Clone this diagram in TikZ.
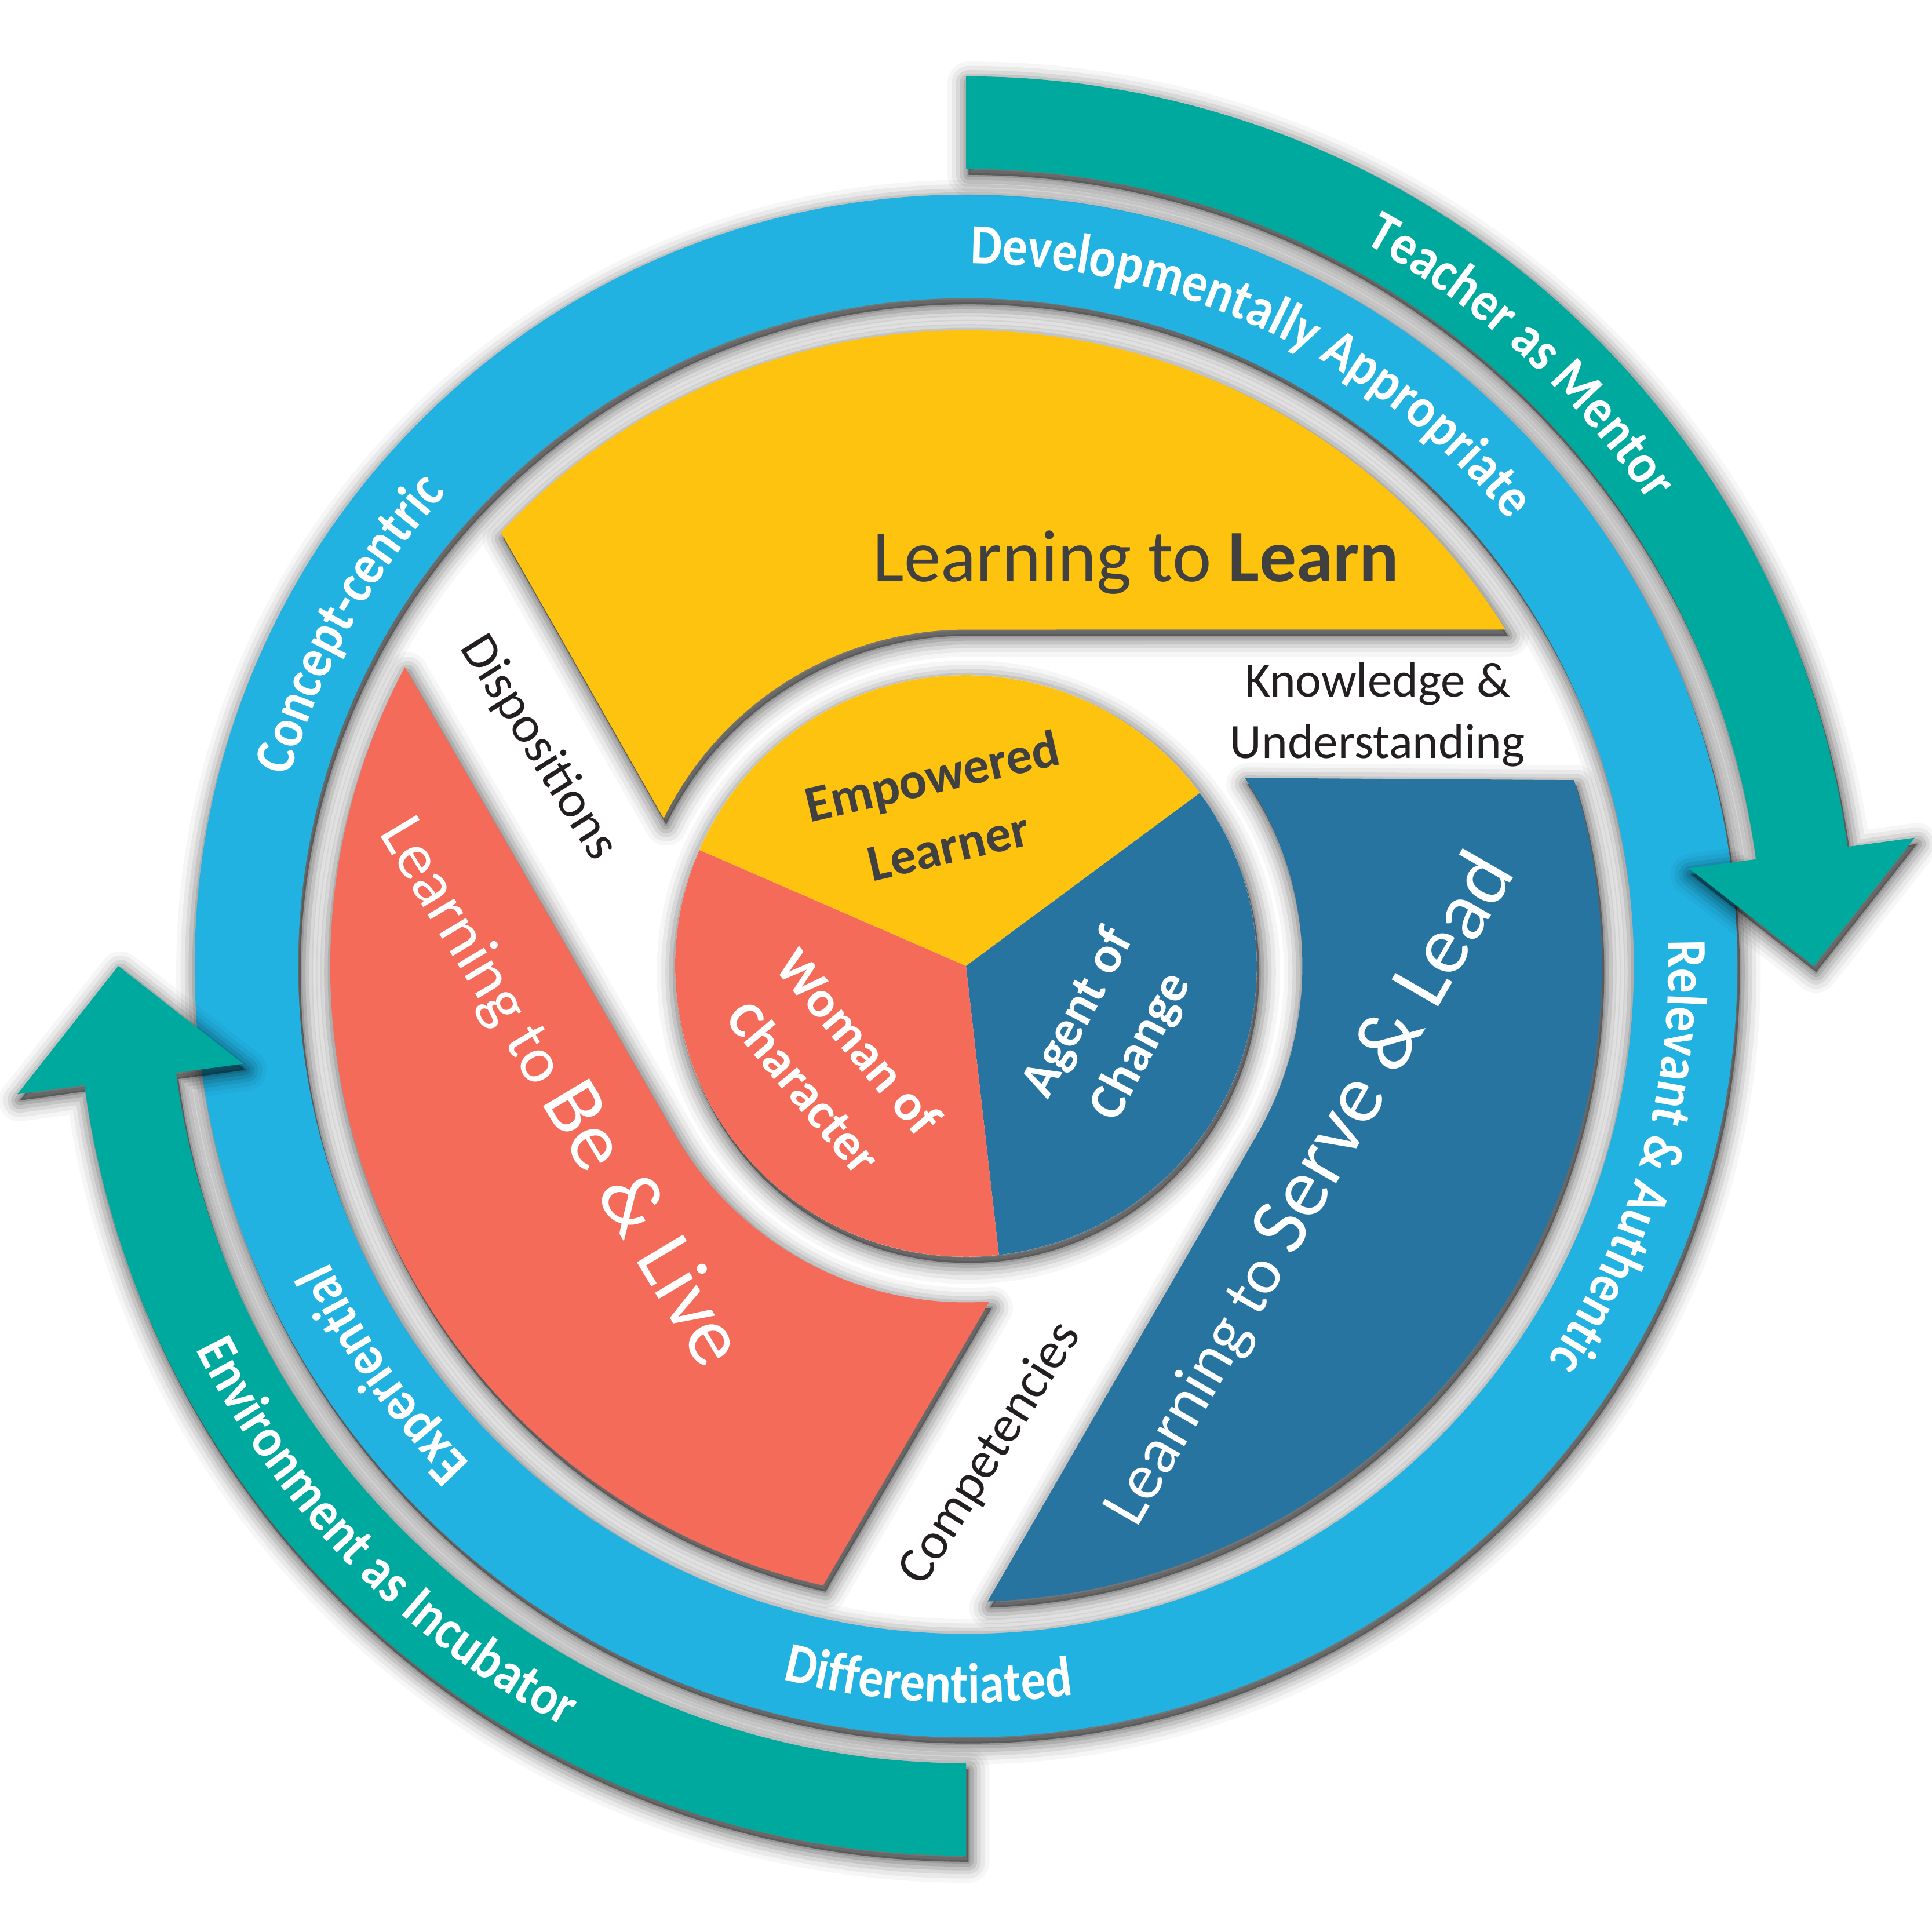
\documentclass[tikz,border=0pt]{standalone}
\usepackage{fontspec}
\setmainfont{Carlito}
\newfontfamily\ringfont{Carlito}[FakeStretch=0.88]
\usetikzlibrary{decorations.text}
\definecolor{ylw}{HTML}{FEC30F}
\definecolor{crl}{HTML}{F56B59}
\definecolor{dbl}{HTML}{2874A0}
\definecolor{lbl}{HTML}{22B2E2}
\definecolor{tea}{HTML}{00A99E}
\definecolor{dtx}{HTML}{404041}
\definecolor{btx}{HTML}{231F20}
\tikzset{
  shd/.style={draw=black, fill=black, even odd rule, line join=round, line width=#1, transform canvas={xshift=2pt,yshift=-5pt}},
  shad/.style={
    preaction={shd=34, opacity=0.035},
    preaction={shd=27, opacity=0.05},
    preaction={shd=20, opacity=0.07},
    preaction={shd=14, opacity=0.09},
    preaction={shd=8, opacity=0.11},
    preaction={shd=3, opacity=0.12}},
  ringtext/.style={decorate, decoration={text along path, text align=center, text color=white,
    text={|\ringfont\bfseries\fontsize{46}{50}\selectfont|#1}}},
  lbl/.style={inner sep=0pt}
}
\newcommand\drawpiece[2]{%
  \path[shad, fill=#2] ({137+#1}:516) arc[start angle={137+#1}, end angle={31.95+#1}, radius=516]
    -- ({90+#1}:273) arc[start angle={90+#1}, end angle={154+#1}, radius=273] -- cycle;}
\begin{document}
\begin{tikzpicture}[x=1pt,y=1pt]
\fill[white] (-784,-784) rectangle (784,784);
\useasboundingbox (-784,-784) rectangle (784,784);
% blue ring
\path[shad, fill=lbl, even odd rule] (0,0) circle[radius=626] (0,0) circle[radius=542];
% teal arrows
\path[shad, fill=tea] (90:722) arc[start angle=90, end angle=7.7, radius=722] -- (7.7:777) -- (688,0)
  -- (7.7:592) -- (7.7:647) arc[start angle=7.7, end angle=90, radius=647] -- cycle;
\path[shad, fill=tea] (-90:722) arc[start angle=-90, end angle=-172.3, radius=722] -- (-172.3:777) -- (-688,0)
  -- (-172.3:592) -- (-172.3:647) arc[start angle=-172.3, end angle=-90, radius=647] -- cycle;
% three pieces
\drawpiece{0}{ylw}
\drawpiece{240}{dbl}
\drawpiece{120}{crl}
% centre pie
\path[shad, fill=white] (0,0) circle[radius=236];
\fill[ylw] (0,0) -- (36.5:236) arc[start angle=36.5, end angle=156.5, radius=236] -- cycle;
\fill[dbl] (0,0) -- (-83.5:236) arc[start angle=-83.5, end angle=36.5, radius=236] -- cycle;
\fill[crl] (0,0) -- (156.5:236) arc[start angle=156.5, end angle=276.5, radius=236] -- cycle;
% ring texts
\path[ringtext={Developmentally Appropriate}] (114.5:570) arc[start angle=114.5, end angle=14.5, radius=570];
\path[ringtext={Relevant {\&} Authentic}] (34:570) arc[start angle=34, end angle=-66, radius=570];
\path[ringtext={Experiential}] (-105:570) arc[start angle=-105, end angle=-185, radius=570];
\path[ringtext={Concept-centric}] (191:570) arc[start angle=191, end angle=111, radius=570];
\path[ringtext={Differentiated}] (-133:598) arc[start angle=-133, end angle=-53, radius=598];
\path[ringtext={Teacher as Mentor}] (87.7:670) arc[start angle=87.7, end angle=7.7, radius=670];
\path[ringtext={Environment as Incubator}] (-175.7:698) arc[start angle=-175.7, end angle=-95.7, radius=698];
% labels
\node[lbl, name=ltl, anchor=base, text=dtx, font=\fontsize{60}{72}\selectfont] at (138,312) {Learning to \textbf{Learn}};
\node[lbl, name=emp, rotate=13, align=center, text=dtx, font=\bfseries\fontsize{42}{58}\selectfont] at (-21,126) {Empowered\\Learner};
\node[lbl, name=woc, rotate=-50, align=center, text=white, font=\bfseries\fontsize{42}{58}\selectfont] at (-109,-80) {Woman of\\Character};
\node[lbl, name=aoc, rotate=62, align=center, text=white, font=\bfseries\fontsize{42}{58}\selectfont] at (117,-52) {Agent of\\Change};
\node[lbl, name=lsl, rotate=60, text=white] at (276,-181) {\fontsize{53}{60}\selectfont Learning to \fontsize{68}{80}\selectfont Serve \& Lead};
\node[lbl, name=lbe, rotate=-59, text=white] at (-329,-101) {\fontsize{53}{60}\selectfont Learning to \fontsize{68}{80}\selectfont Be \& Live};
\node[lbl, name=disp, rotate=-58, text=btx, font=\fontsize{42}{50}\selectfont] at (-347,177) {Dispositions};
\node[lbl, name=ku, align=center, text=btx, font=\fontsize{40}{50}\selectfont] at (334,204) {Knowledge \&\\Understanding};
\node[lbl, name=comp, rotate=58, text=btx, font=\fontsize{42}{50}\selectfont] at (20,-396) {Competencies};
\end{tikzpicture}
\end{document}
